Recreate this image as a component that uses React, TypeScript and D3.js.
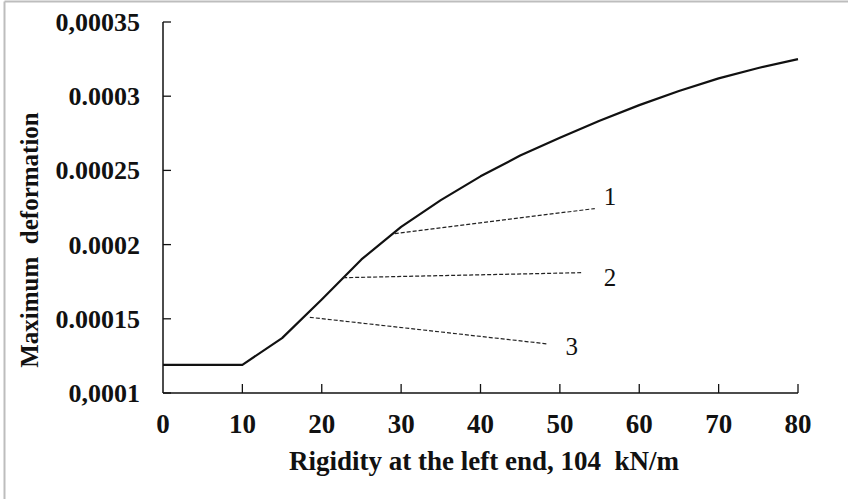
import React from "react";
import * as d3 from "d3";

const rigidity = [0, 5, 10, 15, 20, 25, 30, 35, 40, 45, 50, 55, 60, 65, 70, 75, 80];
const deformation = [0.000119, 0.000119, 0.000119, 0.000137, 0.000163, 0.00019, 0.000212, 0.00023, 0.000246, 0.00026, 0.000272, 0.0002835, 0.000294, 0.0003035, 0.000312, 0.000319, 0.000325];

const xTicks = [0, 10, 20, 30, 40, 50, 60, 70, 80];
const yTicks = [0.0001, 0.00015, 0.0002, 0.00025, 0.0003, 0.00035];
const yTickLabels = ["0,0001", "0.00015", "0.0002", "0.00025", "0.0003", "0,00035"];

const curveLabels = ["1", "2", "3"];
const leaderStart = [[29.2, 0.0002074], [22.7, 0.0001777], [18.5, 0.000151]];
const leaderEnd = [[54.4, 0.0002243], [52.9, 0.0001811], [48.4, 0.0001331]];
const labelPos = [[56.3, 0.0002324], [56.3, 0.0001778], [51.5, 0.0001313]];

const W = 848;
const H = 499;
const left = 163;
const right = 798;
const top = 22;
const bottom = 393;

export default function App() {
  const x = d3.scaleLinear().domain([0, 80]).range([left, right]);
  const y = d3.scaleLinear().domain([0.0001, 0.00035]).range([bottom, top]);
  const line = d3
    .line<number>()
    .x((_, i) => x(rigidity[i]))
    .y((d) => y(d));
  const serif = "'Liberation Serif', 'Times New Roman', serif";

  return (
    <svg
      width={W}
      height={H}
      style={{ position: "absolute", left: 0, top: 0, background: "#fff" }}
    >
      {/* outer frame (left & top visible) */}
      <line x1={4.5} y1={1.5} x2={W} y2={1.5} stroke="#bdbdbd" strokeWidth={2} />
      <line x1={4.5} y1={1.5} x2={4.5} y2={H} stroke="#bdbdbd" strokeWidth={2} />

      {/* axes */}
      <line x1={left} y1={top} x2={left} y2={bottom} stroke="#111" strokeWidth={1.5} />
      <line x1={left} y1={bottom} x2={right} y2={bottom} stroke="#111" strokeWidth={1.5} />

      {xTicks.map((t, i) => (
        <g key={"xt" + i}>
          {t !== 0 && (
            <line x1={x(t)} x2={x(t)} y1={bottom} y2={bottom - 9} stroke="#111" strokeWidth={1.3} />
          )}
          <text
            x={x(t)}
            y={bottom + 40}
            textAnchor="middle"
            fontFamily={serif}
            fontWeight="bold"
            fontSize={27}
            fill="#111"
          >
            {t}
          </text>
        </g>
      ))}

      {yTicks.map((t, i) => (
        <g key={"yt" + i}>
          <line x1={left} x2={left + 8} y1={y(t)} y2={y(t)} stroke="#111" strokeWidth={1.3} />
          <text
            x={left - 23}
            y={y(t) + 9}
            textAnchor="end"
            fontFamily={serif}
            fontWeight="bold"
            fontSize={26}
            fill="#111"
          >
            {yTickLabels[i]}
          </text>
        </g>
      ))}

      {/* axis titles */}
      <text
        x={484}
        y={470}
        textAnchor="middle"
        fontFamily={serif}
        fontWeight="bold"
        fontSize={27}
        fill="#111"
        style={{ whiteSpace: "pre" }}
      >
        {"Rigidity at the left end, 104  kN/m"}
      </text>
      <text
        transform={`translate(38, 240) rotate(-90)`}
        textAnchor="middle"
        fontFamily={serif}
        fontWeight="bold"
        fontSize={25}
        fill="#111"
        style={{ whiteSpace: "pre" }}
      >
        {"Maximum  deformation"}
      </text>

      {/* curve */}
      <path d={line(deformation) || ""} fill="none" stroke="#111" strokeWidth={2.2} strokeLinejoin="round" />

      {/* leaders and labels */}
      {curveLabels.map((lab, i) => (
        <g key={"lab" + i}>
          <line
            x1={x(leaderStart[i][0])}
            y1={y(leaderStart[i][1])}
            x2={x(leaderEnd[i][0])}
            y2={y(leaderEnd[i][1])}
            stroke="#222"
            strokeWidth={1.2}
            strokeDasharray="4,2"
          />
          <text
            x={x(labelPos[i][0])}
            y={y(labelPos[i][1]) + 8.5}
            textAnchor="middle"
            fontFamily={serif}
            fontSize={25}
            fill="#111"
          >
            {lab}
          </text>
        </g>
      ))}
    </svg>
  );
}
